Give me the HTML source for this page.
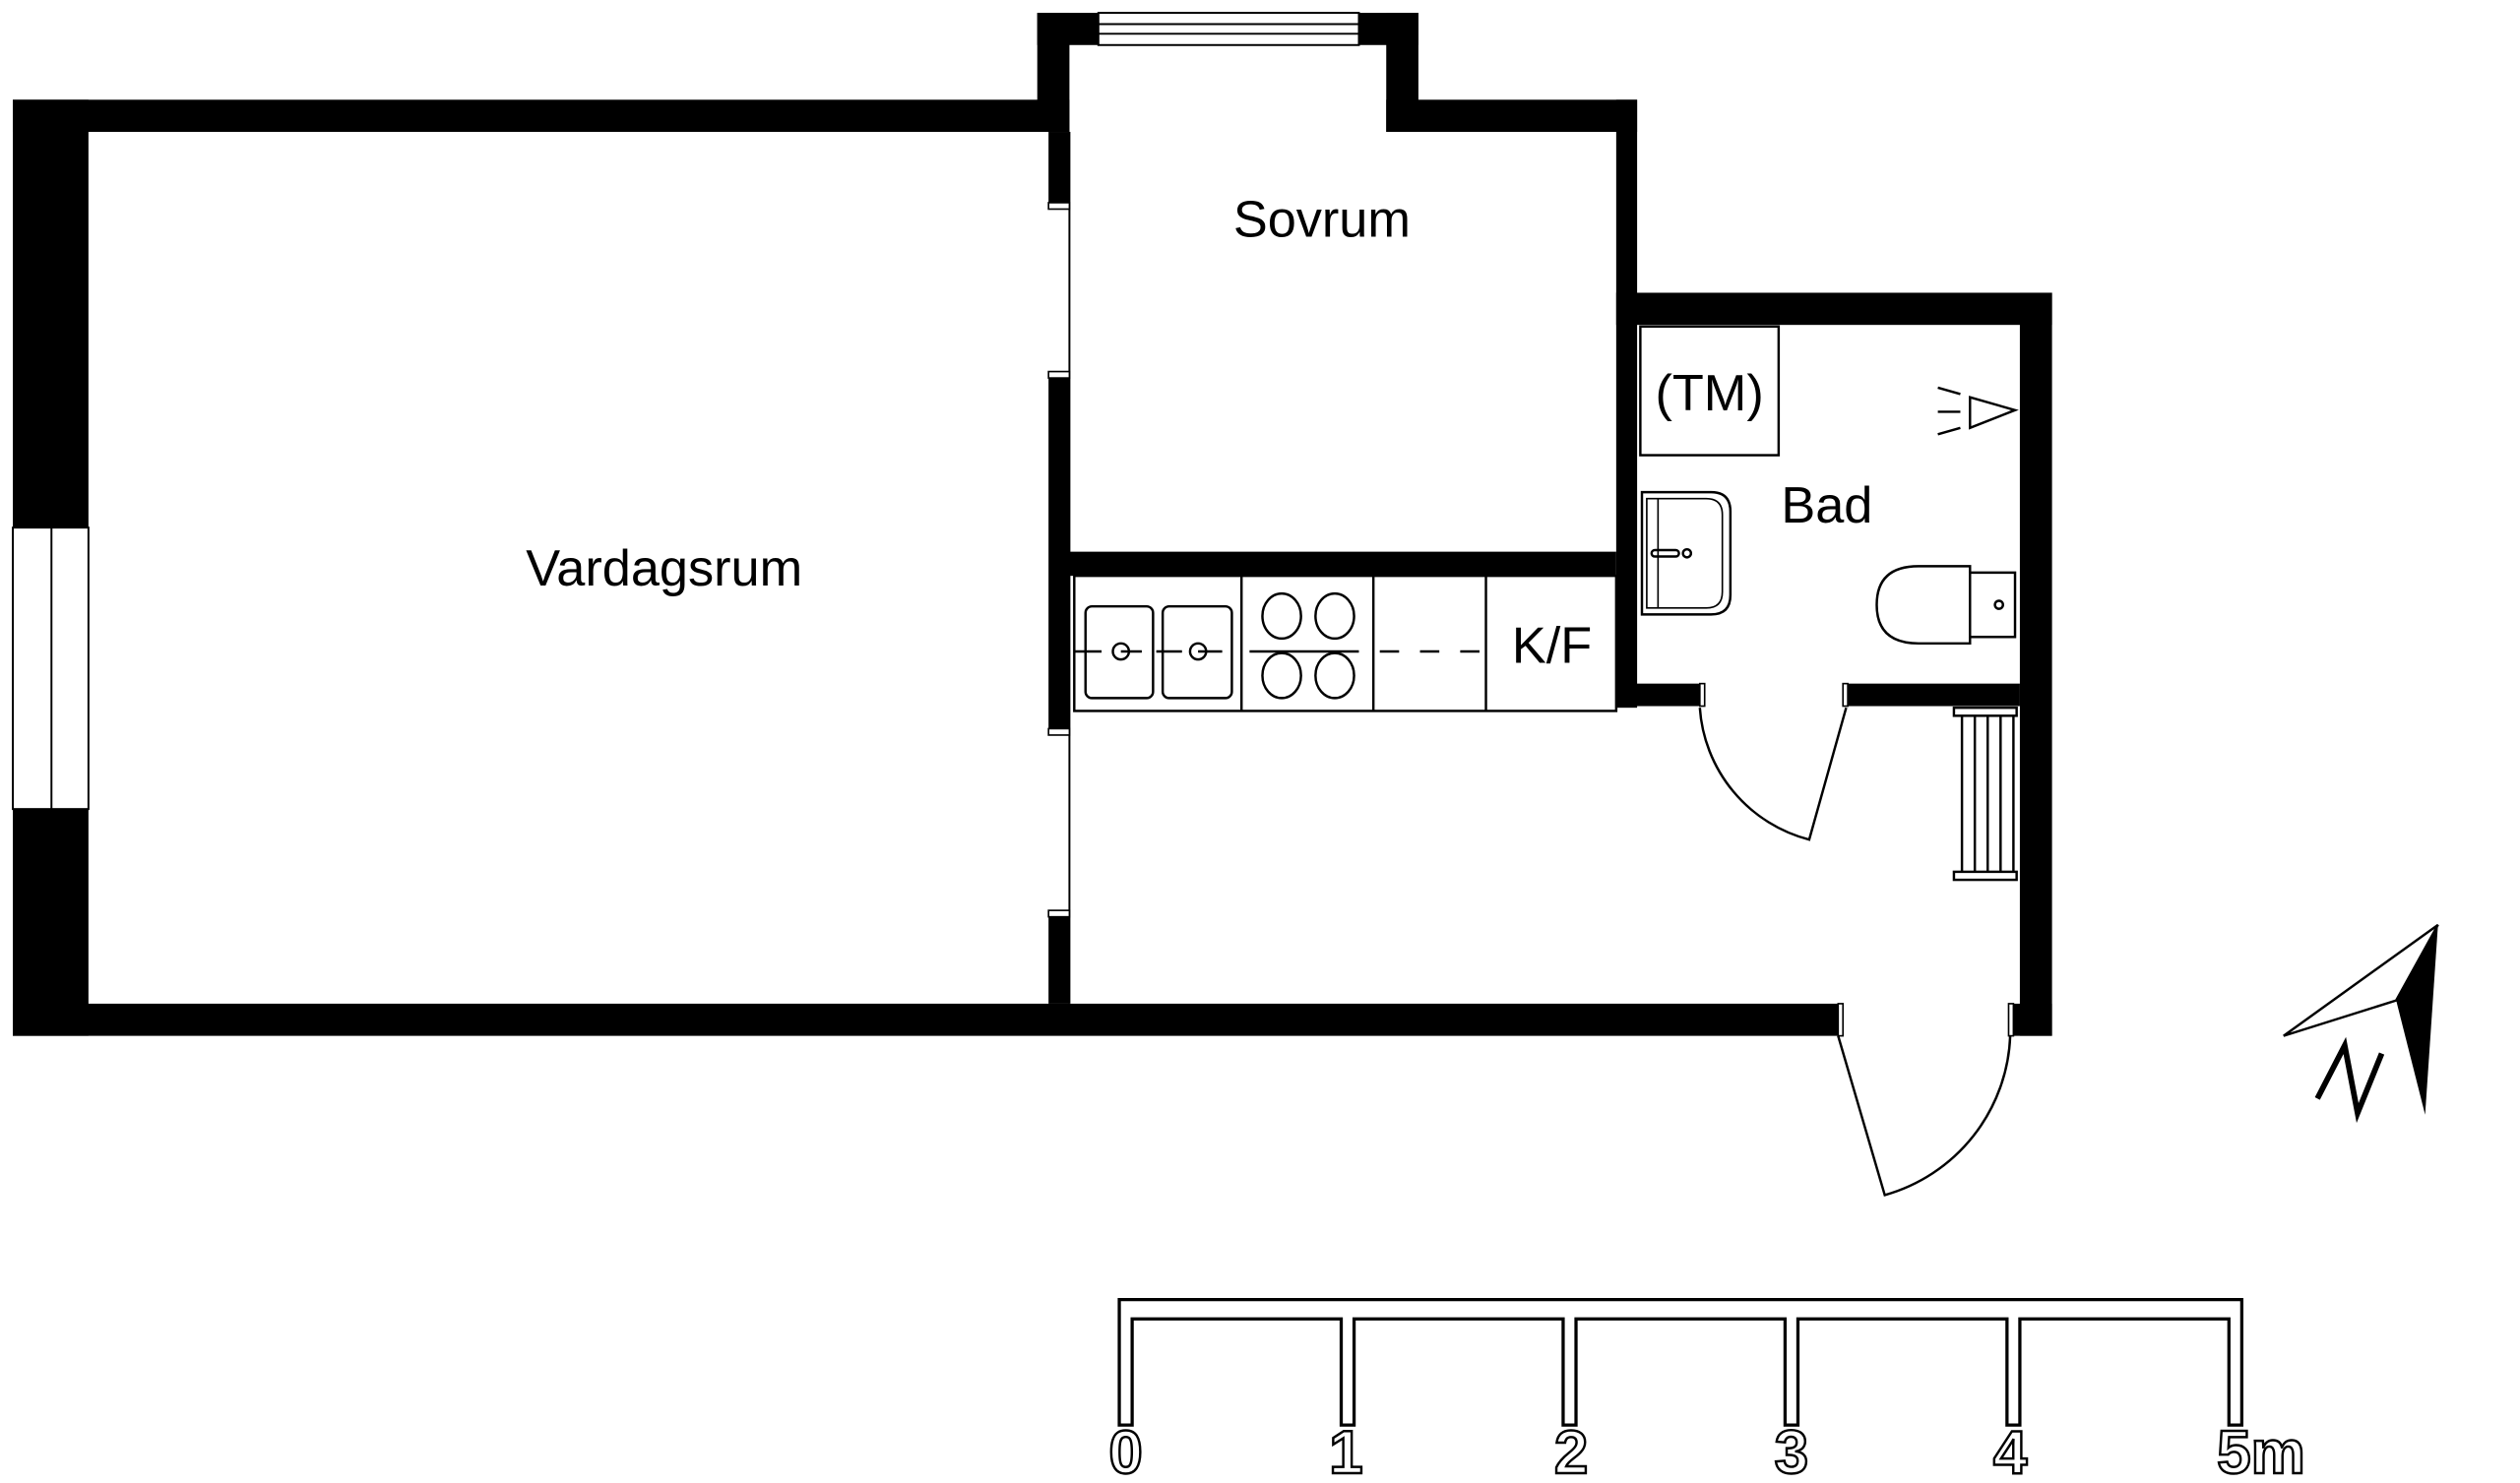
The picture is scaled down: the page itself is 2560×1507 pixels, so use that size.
<!DOCTYPE html>
<html><head><meta charset="utf-8"><style>
html,body{margin:0;padding:0;background:#fff;}
svg{display:block;}
text{font-family:"Liberation Sans",sans-serif;}
</style></head><body>
<svg width="2560" height="1507" viewBox="0 0 1567 922" preserveAspectRatio="none" xmlns="http://www.w3.org/2000/svg">
<rect width="1567" height="922" fill="#fff"/>
<g fill="#000">
<rect x="8" y="62" width="657" height="20"/>
<rect x="8" y="62" width="47" height="582"/>
<rect x="8" y="624" width="1135" height="20"/>
<rect x="652" y="82" width="13" height="46"/>
<rect x="652" y="233" width="13" height="222"/>
<rect x="652" y="568" width="13" height="56"/>
<rect x="645" y="8" width="20" height="74"/>
<rect x="862" y="8" width="20" height="74"/>
<rect x="645" y="8" width="237" height="20"/>
<rect x="862" y="62" width="156" height="20"/>
<rect x="1005" y="62" width="13" height="378"/>
<rect x="665" y="343" width="340" height="15"/>
<rect x="1005" y="182" width="271" height="20"/>
<rect x="1256" y="182" width="20" height="462"/>
<rect x="1005" y="425" width="52" height="14"/>
<rect x="1149" y="425" width="107" height="14"/>
<rect x="1252" y="624" width="24" height="20"/>
</g>
<rect x="8" y="328" width="47" height="175" fill="#fff" stroke="#000" stroke-width="1.2"/>
<line x1="32" y1="328" x2="32" y2="503" stroke="#000" stroke-width="1.2"/>
<rect x="683" y="8" width="162" height="20" fill="#fff" stroke="#000" stroke-width="1.2"/>
<line x1="683" y1="15" x2="845" y2="15" stroke="#000" stroke-width="1.2"/>
<line x1="683" y1="21" x2="845" y2="21" stroke="#000" stroke-width="1.2"/>
<line x1="665" y1="82" x2="665" y2="624" stroke="#000" stroke-width="1.2"/>
<g fill="#fff" stroke="#000" stroke-width="1">
<rect x="652" y="126" width="13" height="4"/>
<rect x="652" y="231" width="13" height="4"/>
<rect x="652" y="453" width="13" height="4"/>
<rect x="652" y="566" width="13" height="4"/>
<rect x="1057" y="425" width="3" height="14"/>
<rect x="1146" y="425" width="3" height="14"/>
<rect x="1143" y="624" width="3" height="20"/>
<rect x="1249" y="624" width="3" height="20"/>
</g>
<g fill="none" stroke="#000" stroke-width="1.5">
<path d="M1057,440 A91,91 0 0 0 1125,522 L1148,440"/>
<path d="M1143,644 L1172,743 A107,107 0 0 0 1250,644"/>
</g>
<g fill="none" stroke="#000" stroke-width="1.5">
<rect x="668" y="358" width="337" height="84"/>
<line x1="772" y1="358" x2="772" y2="442"/>
<line x1="854" y1="358" x2="854" y2="442"/>
<line x1="924" y1="358" x2="924" y2="442"/>
<rect x="675" y="377" width="42" height="57" rx="4"/>
<rect x="723" y="377" width="43" height="57" rx="4"/>
<circle cx="697" cy="405" r="5"/>
<circle cx="745" cy="405" r="5"/>
<line x1="668" y1="405" x2="685" y2="405"/>
<line x1="697" y1="405" x2="710" y2="405"/>
<line x1="719" y1="405" x2="735" y2="405"/>
<line x1="745" y1="405" x2="760" y2="405"/>
<line x1="777" y1="405" x2="845" y2="405"/>
<ellipse cx="797" cy="383" rx="12" ry="14"/>
<ellipse cx="830" cy="383" rx="12" ry="14"/>
<ellipse cx="797" cy="420" rx="12" ry="14"/>
<ellipse cx="830" cy="420" rx="12" ry="14"/>
<line x1="858" y1="405" x2="924" y2="405" stroke-dasharray="12,13"/>
</g>
<g fill="none" stroke="#000" stroke-width="1.5">
<rect x="1020" y="203" width="86" height="80"/>
<path d="M1021,306 H1064 Q1076,306 1076,318 V370 Q1076,382 1064,382 H1021 Z"/>
<path d="M1024,310 H1061 Q1071,310 1071,320 V368 Q1071,378 1061,378 H1024 Z" stroke-width="1"/>
<line x1="1031" y1="310" x2="1031" y2="378" stroke-width="1"/>
<rect x="1027" y="342" width="17" height="4" rx="2"/>
<circle cx="1049" cy="344" r="2.5"/>
<path d="M1225,356 L1225,352 H1193 Q1167,352 1167,376 Q1167,400 1193,400 H1225 V396"/>
<path d="M1225,356 H1253 V396 H1225 Z"/>
<circle cx="1243" cy="376" r="2.5"/>
<path d="M1225,247 L1253,255 L1225,266 Z"/>
<line x1="1205" y1="241" x2="1219" y2="245"/>
<line x1="1205" y1="256" x2="1219" y2="256"/>
<line x1="1205" y1="270" x2="1219" y2="266"/>
<rect x="1215" y="440" width="39" height="5"/>
<rect x="1215" y="542" width="39" height="5"/>
<line x1="1220" y1="445" x2="1220" y2="542"/>
<line x1="1228" y1="445" x2="1228" y2="542"/>
<line x1="1236" y1="445" x2="1236" y2="542"/>
<line x1="1244" y1="445" x2="1244" y2="542"/>
<line x1="1252" y1="445" x2="1252" y2="542"/>
</g>
<g fill="#000" font-size="32" text-anchor="middle">
<text x="413" y="364">Vardagsrum</text>
<text x="822" y="147">Sovrum</text>
<text x="1136" y="325">Bad</text>
<text x="1063" y="255">(TM)</text>
<text x="965" y="412">K/F</text>
</g>
<polygon points="1420,644 1516,575 1490,622" fill="#fff" stroke="#000" stroke-width="1.5"/>
<polygon points="1516,575 1508,693 1490,622" fill="#000"/>
<polyline points="1441,683 1458,650 1466,692 1481,655" fill="none" stroke="#000" stroke-width="3.5"/>
<polygon points="696,886 696,808 1394,808 1394,886 1386,886 1386,820 1256,820 1256,886 1248,886 1248,820 1118,820 1118,886 1110,886 1110,820 980,820 980,886 972,886 972,820 842,820 842,886 834,886 834,820 704,820 704,886" fill="#fff" stroke="#000" stroke-width="2"/>
<g fill="#fff" stroke="#000" stroke-width="1.5" font-size="38" font-weight="bold" text-anchor="middle">
<text x="700" y="916">0</text>
<text x="837" y="916">1</text>
<text x="977" y="916">2</text>
<text x="1114" y="916">3</text>
<text x="1250" y="916">4</text>
<text x="1406" y="916">5m</text>
</g>
</svg>
</body></html>
